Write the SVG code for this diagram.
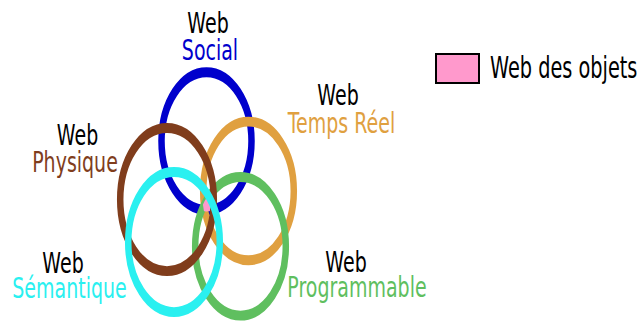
<svg xmlns="http://www.w3.org/2000/svg" width="640" height="322" viewBox="0 0 640 322">
<style>
  text { font-family: "DejaVu Sans", "Liberation Sans", sans-serif; font-size: 19px; text-anchor: middle; }
  .ring { fill: none; stroke-width: 6.5; }
  .k { fill: #000; }
</style>
<defs>
  <clipPath id="cB"><circle cx="206.5" cy="92.2" r="46"/></clipPath>
  <clipPath id="cO"><circle cx="248.5" cy="124.8" r="46.5"/></clipPath>
  <clipPath id="cR"><circle cx="167" cy="130.4" r="46.8"/></clipPath>
  <clipPath id="cC"><circle cx="174" cy="158.2" r="45.8"/></clipPath>
  <clipPath id="cG"><circle cx="240.5" cy="161" r="46.5"/></clipPath>
</defs>
<rect width="640" height="322" fill="#fff"/>
<g transform="scale(1,1.53)">
  <g id="social"><circle class="ring" cx="206.5" cy="92.2" r="45" stroke="#0000cc"/></g>
  <g id="tempsreel"><circle class="ring" cx="248.5" cy="124.8" r="45.3" stroke="#e0a040"/></g>
  <g id="programmable"><circle class="ring" cx="240.5" cy="161" r="45.3" stroke="#5fbf5f"/></g>
  <g id="objets-zone" clip-path="url(#cB)"><g clip-path="url(#cO)"><g clip-path="url(#cR)"><g clip-path="url(#cC)"><g clip-path="url(#cG)">
    <rect x="150" y="80" width="120" height="100" fill="#ff99cc"/>
  </g></g></g></g></g>
  <g id="physique"><circle class="ring" cx="167" cy="130.4" r="46.8" stroke="#803d1c"/></g>
  <g id="semantique"><circle class="ring" cx="174" cy="158.2" r="45.8" stroke="#2af0f0"/></g>
  <g id="labels">
    <text class="k" x="208" y="21.4">Web</text>
    <text x="210" y="39.3" fill="#0000cc">Social</text>
    <text class="k" x="338" y="68.4">Web</text>
    <text x="341.5" y="87" fill="#e0a040">Temps Réel</text>
    <text class="k" x="77.5" y="94.6">Web</text>
    <text x="75" y="112.5" fill="#803d1c">Physique</text>
    <text class="k" x="63" y="178.2">Web</text>
    <text x="69.5" y="194.9" fill="#2af0f0">Sémantique</text>
    <text class="k" x="346" y="177.6">Web</text>
    <text x="357" y="194.2" fill="#5fbf5f">Programmable</text>
  </g>
  <g id="legend-label">
    <text class="k" x="490" y="51" style="text-anchor:start;font-size:19.3px">Web des objets</text>
  </g>
</g>
<g id="legend">
  <rect x="436" y="54" width="43" height="29" fill="#ff99cc" stroke="#000" stroke-width="2"/>
</g>
</svg>
